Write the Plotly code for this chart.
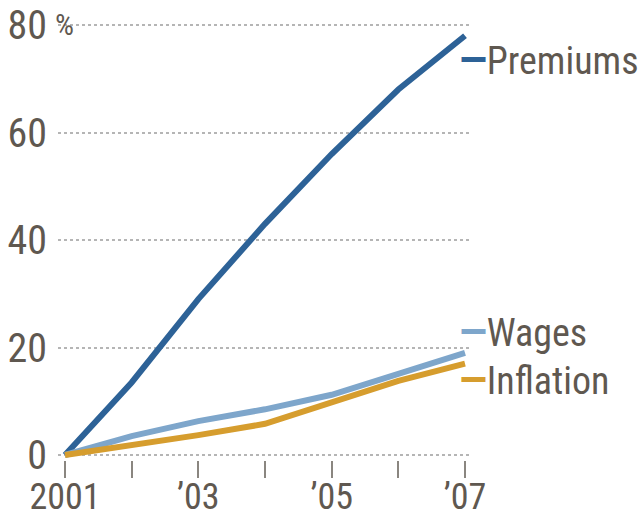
import plotly.graph_objects as go

years = [2001, 2002, 2003, 2004, 2005, 2006, 2007]
premiums = [0, 13.5, 29, 43, 56, 68, 78]
wages = [0, 3.5, 6.3, 8.5, 11.2, 15.2, 19]
inflation = [0, 1.8, 3.7, 5.8, 9.8, 13.8, 17]

series_names = ["Premiums", "Wages", "Inflation"]
colors = ["#2d6297", "#7ea6cb", "#d69d2e"]
label_y = [73.5, 22.9, 14.0]

x_ticktext = ["2001", "", "\u201903", "", "\u201905", "", "\u201907"]
y_tickvals = [0, 20, 40, 60, 80]
y_ticktext = ["0", "20", "40", "60", "80"]

FONT = "Liberation Sans Narrow, Arial Narrow, Roboto Condensed, Liberation Sans, sans-serif"
TXT = "#5f5850"

fig = go.Figure()
for name, vals, col in zip(series_names, [premiums, wages, inflation], colors):
    fig.add_trace(go.Scatter(x=years, y=vals, mode="lines", name=name,
                             line=dict(color=col, width=6), showlegend=False))

for name, col, ly in zip(series_names, colors, label_y):
    fig.add_annotation(x=years[-1], y=ly, xref="x", yref="y",
                       text=f"<span style='color:{col};font-size:42px'><b>\u2014</b></span>{name}",
                       showarrow=False, xanchor="left", yanchor="middle", xshift=-7,
                       borderpad=0,
                       font=dict(family=FONT, size=38, color=TXT))

fig.add_annotation(x=0, y=80, xref="paper", yref="y", text="%", showarrow=False,
                   xanchor="left", yanchor="middle", xshift=-5, yshift=1,
                   font=dict(family=FONT, size=30, color=TXT))

fig.update_layout(
    width=644, height=517,
    margin=dict(l=58, r=174, t=20, b=57),
    paper_bgcolor="white", plot_bgcolor="white",
    font=dict(family=FONT, color=TXT),
    xaxis=dict(range=[2000.895, 2007.075], tickvals=years, ticktext=x_ticktext,
               showgrid=False, zeroline=False, showline=False, automargin=False,
               ticks="outside", ticklen=17, tickwidth=2, tickcolor="#8a8680",
               ticklabelstandoff=-12,
               tickfont=dict(size=36, family=FONT, color=TXT)),
    yaxis=dict(range=[-0.93, 80.93], tickvals=y_tickvals, ticktext=y_ticktext,
               showgrid=True, gridcolor="#b5b5b5", griddash="dot", gridwidth=2,
               zeroline=False, showline=False, ticks="", ticklabelstandoff=10,
               automargin=False,
               tickfont=dict(size=40, family=FONT, color=TXT)),
)

fig.write_html("out.html")
